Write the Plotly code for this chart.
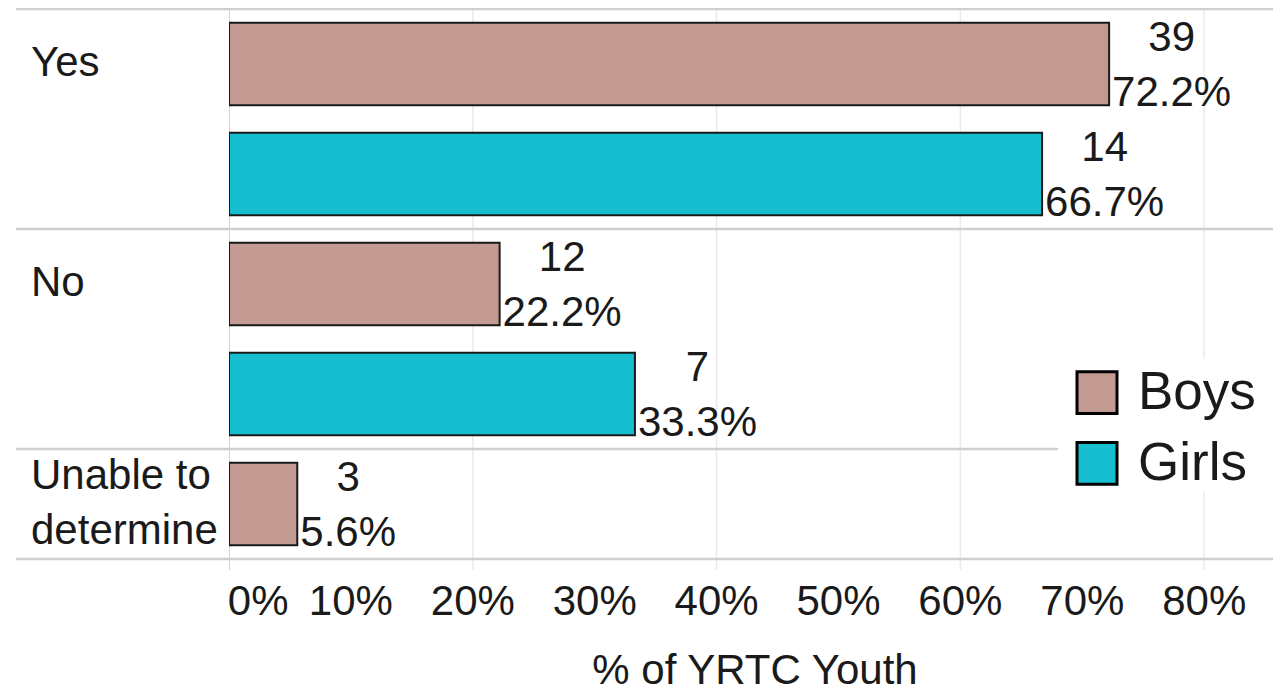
import plotly.graph_objects as go

# ---------------- data ----------------
categories = ["Yes", "No", "Unable to determine"]
category_labels = ["Yes", "No", "Unable to<br>determine"]
boys_pct = [72.2, 22.2, 5.6]
boys_n = [39, 12, 3]
girls_pct = [66.7, 33.3, None]
girls_n = [14, 7, None]
x_ticks = [0, 10, 20, 30, 40, 50, 60, 70, 80]
x_tick_text = ["\u00a0\u00a0\u00a0\u00a0\u00a00%", "10%", "20%", "30%", "40%", "50%", "60%", "70%", "80%"]
grid_vals = [20, 40, 60, 80]
x_title = "% of YRTC Youth"
series_names = ["Boys", "Girls"]

BOYS_COLOR = "#C39A91"
GIRLS_COLOR = "#17BECF"
TXT = "#1a1a1a"
FONT = "Arial, Liberation Sans, sans-serif"
FS = 42
LEG_FS = 53

# ---------------- layout geometry (pixels) ----------------
OFF = 8  # page body margin
W, H = 1281 - OFF, 693 - OFF
ML, MR, MT, MB = 229 - OFF, 0, 0, 121
PW, PH = W - ML - MR, H - MT - MB
X_MAX = 86.3
Y_TOP, Y_BOT = -0.01, 5.10


def px_x(px):  # screen px -> paper x
    return (px - OFF - ML) / PW


def px_y(py):  # screen px -> paper y
    return (H - MB - (py - OFF)) / PH


# slot positions derived from categories (boys then girls where present)
boys_y, girls_y, cat_y, boundaries = [], [], [], [0.0]
pos = 0.0
for i, c in enumerate(categories):
    boys_y.append(pos + 0.5)
    cat_y.append(pos + 0.5)
    pos += 1
    if girls_pct[i] is not None:
        girls_y.append(pos + 0.5)
        pos += 1
    boundaries.append(pos)

g_pct = [v for v in girls_pct if v is not None]
g_n = [v for v in girls_n if v is not None]

fig = go.Figure()
fig.add_trace(go.Bar(
    x=boys_pct, y=boys_y, orientation="h", width=0.75, name=series_names[0],
    marker=dict(color=BOYS_COLOR, line=dict(color=TXT, width=2)),
    text=[f"{n}<br>{p:.1f}%" for n, p in zip(boys_n, boys_pct)],
    textposition="outside", constraintext="none", cliponaxis=False,
    textfont=dict(size=FS, color=TXT, family=FONT), showlegend=False,
))
fig.add_trace(go.Bar(
    x=g_pct, y=girls_y, orientation="h", width=0.75, name=series_names[1],
    marker=dict(color=GIRLS_COLOR, line=dict(color=TXT, width=2)),
    text=[f"{n}<br>{p:.1f}%" for n, p in zip(g_n, g_pct)],
    textposition="outside", constraintext="none", cliponaxis=False,
    textfont=dict(size=FS, color=TXT, family=FONT), showlegend=False,
))

shapes = []
# vertical gridlines
for gv in grid_vals:
    shapes.append(dict(type="line", xref="x", yref="y", x0=gv, x1=gv, y0=0, y1=Y_BOT,
                       line=dict(color="#EBEBEB", width=1.5), layer="below"))
shapes.append(dict(type="line", xref="x", yref="y", x0=0, x1=0, y0=0, y1=Y_BOT,
                   line=dict(color="#D3D3D3", width=2), layer="below"))
# horizontal separators
for b in boundaries:
    shapes.append(dict(type="line", xref="paper", yref="y", x0=px_x(16), x1=1, y0=b, y1=b,
                       line=dict(color="#CFCFCF", width=2.5), layer="above"))
# legend background
shapes.append(dict(type="rect", xref="paper", yref="paper", x0=px_x(1058), x1=1,
                   y0=px_y(493), y1=px_y(360), fillcolor="white", line=dict(width=0), layer="above"))
legend_items = [(series_names[0], BOYS_COLOR, 394), (series_names[1], GIRLS_COLOR, 465)]
annotations = []
for name, col, cy in legend_items:
    shapes.append(dict(type="rect", xref="paper", yref="paper", x0=px_x(1077), x1=px_x(1117),
                       y0=px_y(cy + 21), y1=px_y(cy - 21), fillcolor=col,
                       line=dict(color="black", width=3), layer="above"))
    annotations.append(dict(text=name, xref="paper", yref="paper", x=px_x(1136), y=px_y(cy - 2),
                            xanchor="left", yanchor="middle", showarrow=False,
                            font=dict(size=LEG_FS, color=TXT, family=FONT)))

# category labels
for lab, cy in zip(category_labels, cat_y):
    annotations.append(dict(text=lab, xref="paper", yref="y", x=px_x(29), y=cy - 0.02,
                            xanchor="left", yanchor="middle", align="left", showarrow=False,
                            font=dict(size=FS, color=TXT, family=FONT)))

fig.update_layout(
    width=W, height=H,
    margin=dict(l=ML, r=MR, t=MT, b=MB, pad=0),
    paper_bgcolor="white", plot_bgcolor="white",
    font=dict(family=FONT, size=FS, color=TXT),
    showlegend=False,
    shapes=shapes, annotations=annotations,
    xaxis=dict(range=[0, X_MAX], tickvals=x_ticks, ticktext=x_tick_text, showgrid=False,
               zeroline=False, showline=False, ticks="", tickfont=dict(size=FS, color=TXT),
               ticklabelstandoff=2,
               title=dict(text=x_title, font=dict(size=FS, color=TXT), standoff=40)),
    yaxis=dict(range=[Y_BOT, Y_TOP], showgrid=False, zeroline=False, showline=False,
               showticklabels=False, ticks=""),
)

fig.write_html("out.html")
